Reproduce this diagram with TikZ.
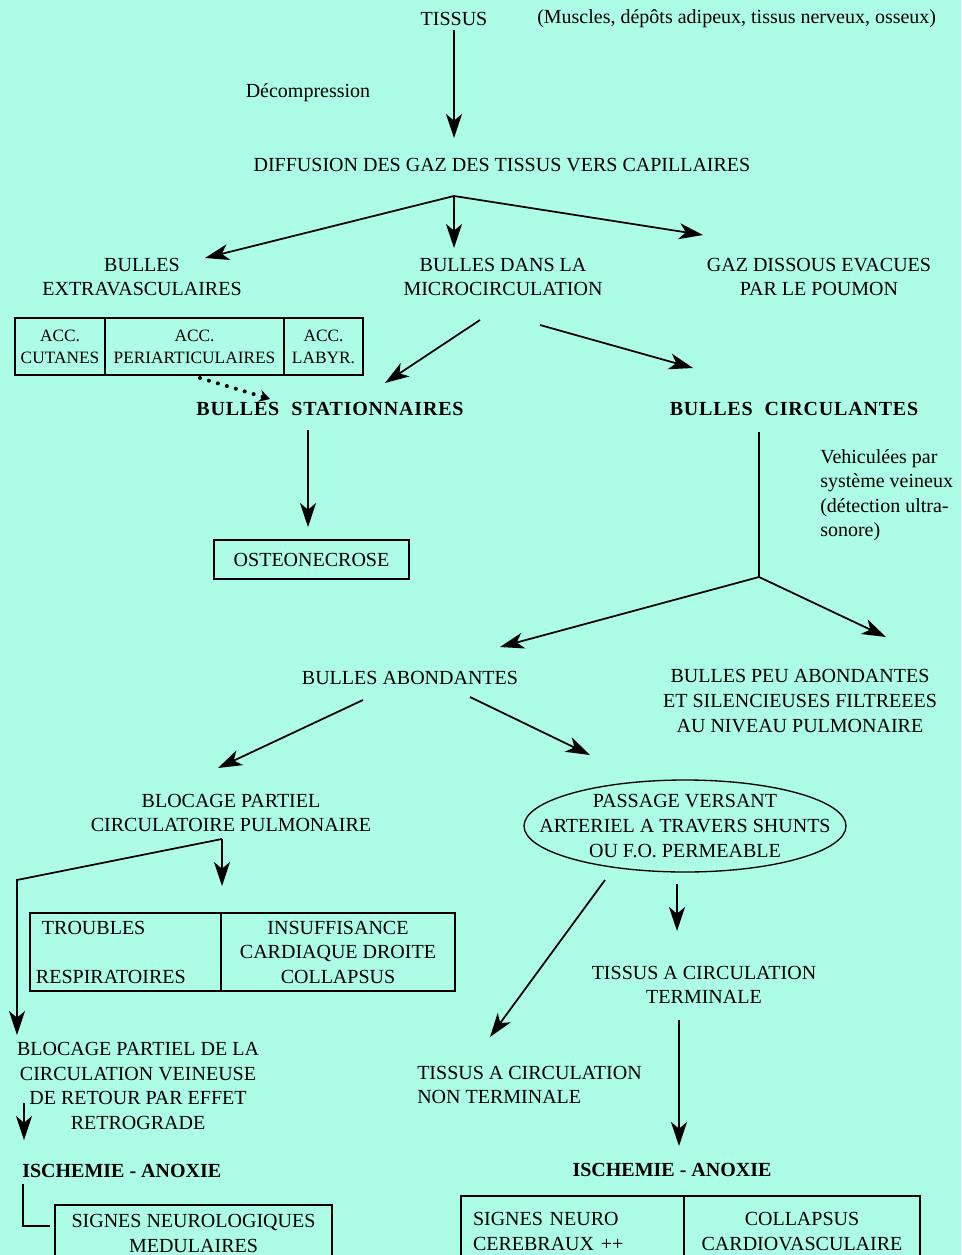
\documentclass[tikz,border=0pt]{standalone}
\usepackage{fontspec}
\setmainfont{Liberation Serif}
\usepackage{xcolor}
\usetikzlibrary{shapes,arrows.meta,positioning}

\definecolor{aqua}{RGB}{172,252,231}
\newcommand{\diagfont}{\fontsize{15}{18.4}\selectfont}
\newcommand{\cellfont}{\fontsize{13}{16.5}\selectfont}

\begin{document}
\begin{tikzpicture}[
    x=0.75pt, y=-0.75pt,
    every node/.style={font=\diagfont},
    txt/.style={align=center},
    boldtxt/.style={font=\diagfont\bfseries},
    cell/.style={rectangle, draw, outer sep=0pt, inner sep=0pt, align=center, line width=1pt},
    arrow/.style={-{Stealth[length=18pt, width=12pt, inset=5pt]}, line width=1.3pt},
    plain/.style={line width=1.3pt}
]

\clip (0,0) rectangle (961,1255);
\fill[aqua] (0,0) rectangle (961,1255);

% top
\node (tissus) at (454,19) {TISSUS};
\node[anchor=west, inner sep=0pt] (muscles) at (537,19) {(Muscles, dépôts adipeux, tissus nerveux, osseux)};
\node (decomp) at (308,93) {Décompression};
\node (diffusion) at (502,165) {DIFFUSION DES GAZ DES TISSUS VERS CAPILLAIRES};

\node[txt] (extra) at (142,277) {BULLES\\EXTRAVASCULAIRES};
\node[txt] (micro) at (503,277) {BULLES DANS LA\\MICROCIRCULATION};
\node[txt] (gaz) at (819,277) {GAZ DISSOUS EVACUES\\PAR LE POUMON};

% accidents
\node[cell, font=\cellfont, minimum width=67.5pt, minimum height=42.75pt, anchor=north west] (cutanes) at (15,318) {ACC.\\CUTANES};
\node[cell, font=\cellfont, minimum width=134.25pt, minimum height=42.75pt, right=0pt of cutanes] (periart) {ACC.\\PERIARTICULAIRES};
\node[cell, font=\cellfont, minimum width=59.25pt, minimum height=42.75pt, right=0pt of periart] (labyr) {ACC.\\LABYR.};

\node[boldtxt] (stat) at (330,409) {\addfontfeatures{LetterSpace=4}BULLES\hspace{0.6em}STATIONNAIRES};
\node[boldtxt] (circ) at (794,409) {\addfontfeatures{LetterSpace=4}BULLES\hspace{0.6em}CIRCULANTES};

\node[cell, minimum width=146.25pt, minimum height=29.25pt] (osteo) at (311.5,559.5) {OSTEONECROSE};
\node[anchor=north west, inner sep=0pt, align=left] (vehic) at (820,449) {Vehiculées par\\système veineux\\(détection ultra-\\sonore)};

\node (abond) at (410,678) {BULLES ABONDANTES};
\node[txt] (peu) at (800,701) {BULLES PEU ABONDANTES\\ET SILENCIEUSES FILTREEES\\AU NIVEAU PULMONAIRE};

\node[txt] (blocage) at (231,813) {BLOCAGE PARTIEL\\CIRCULATOIRE PULMONAIRE};
\node[txt] (passage) at (685,826) {PASSAGE VERSANT\\ARTERIEL A TRAVERS SHUNTS\\OU F.O. PERMEABLE};
\draw[line width=1pt] (passage.center) ellipse [x radius=120.75pt, y radius=34.5pt];

% troubles
\node[cell, minimum width=143.25pt, minimum height=58.5pt, text width=134.25pt, align=left, anchor=north west] (troubles) at (30,913) {\hspace{4.5pt}TROUBLES\\[18.4pt]RESPIRATOIRES};
\node[cell, minimum width=175.5pt, minimum height=58.5pt, right=0pt of troubles] (insuff) {INSUFFISANCE\\CARDIAQUE DROITE\\COLLAPSUS};

\node[txt] (veineuse) at (138,1086) {BLOCAGE PARTIEL DE LA\\CIRCULATION VEINEUSE\\DE RETOUR PAR EFFET\\RETROGRADE};
\node[txt] (terminale) at (704,985) {TISSUS A CIRCULATION\\TERMINALE};
\node[anchor=west, inner sep=0pt, align=left] (nonterm) at (417,1085) {TISSUS A CIRCULATION\\NON TERMINALE};

\node[boldtxt, anchor=west, inner sep=0pt] (ischA) at (22,1171) {ISCHEMIE - ANOXIE};
\node[boldtxt] (ischB) at (672,1170) {ISCHEMIE - ANOXIE};

% bottom boxes
\node[cell, minimum width=207.75pt, minimum height=42.75pt, anchor=north west] (medul) at (55,1205) {SIGNES NEUROLOGIQUES\\MEDULAIRES};
\node[cell, minimum width=167.25pt, minimum height=53.25pt, text width=149.25pt, align=left, anchor=north west] (cereb) at (461,1196) {SIGNES NEURO\\CEREBRAUX ++};
\node[cell, minimum width=177pt, minimum height=53.25pt, right=0pt of cereb] (cardio) {COLLAPSUS\\CARDIOVASCULAIRE};

% connector points
\coordinate (diffusion-in) at (454,138);
\coordinate (fanA) at (454,196);
\coordinate (extra-in) at (205,258);
\coordinate (micro-in) at (454,248);
\coordinate (gaz-in) at (703,235);
\coordinate (micro-outA) at (480,320);
\coordinate (micro-outB) at (540,325);
\coordinate (stat-in) at (385,383);
\coordinate (circ-in) at (693,368);
\coordinate (periart-out) at (200,378);
\coordinate (stat-dot) at (270,399);
\coordinate (stat-out) at (308,430);
\coordinate (osteo-in) at (308,527);
\coordinate (circ-out) at (759,432);
\coordinate (fanB) at (759,577);
\coordinate (abond-in) at (500,647);
\coordinate (peu-in) at (886,637);
\coordinate (abond-outA) at (363,700);
\coordinate (abond-outB) at (470,697);
\coordinate (blocage-in) at (218,768);
\coordinate (passage-in) at (590,755);
\coordinate (blocage-out) at (222,839);
\coordinate (troubles-in) at (222,886);
\coordinate (bendA) at (17,880);
\coordinate (veineuse-in) at (17,1035);
\coordinate (veineuse-out) at (24,1103);
\coordinate (ischA-in) at (24,1140);
\coordinate (ischA-out) at (23,1184);
\coordinate (bendB) at (23,1226);
\coordinate (medul-in) at (50,1226);
\coordinate (passage-outA) at (605,880);
\coordinate (passage-outB) at (677,884);
\coordinate (nonterm-in) at (490,1037);
\coordinate (terminale-in) at (677,931);
\coordinate (terminale-out) at (679,1020);
\coordinate (ischB-in) at (679,1146);

\draw[arrow] (tissus.south) -- (diffusion-in);
\draw[arrow] (fanA) -- (extra-in);
\draw[arrow] (fanA) -- (micro-in);
\draw[arrow] (fanA) -- (gaz-in);
\draw[arrow] (micro-outA) -- (stat-in);
\draw[arrow] (micro-outB) -- (circ-in);
\draw[-{Stealth[length=8pt, width=9pt]}, line width=3pt, line cap=round, dash pattern=on 0pt off 7pt] (periart-out) -- (stat-dot);
\draw[arrow] (stat-out) -- (osteo-in);
\draw[plain] (circ-out) -- (fanB);
\draw[arrow] (fanB) -- (abond-in);
\draw[arrow] (fanB) -- (peu-in);
\draw[arrow] (abond-outA) -- (blocage-in);
\draw[arrow] (abond-outB) -- (passage-in);
\draw[arrow] (blocage-out) -- (troubles-in);
\draw[arrow] (blocage-out) -- (bendA) -- (veineuse-in);
\draw[arrow] (veineuse-out) -- (ischA-in);
\draw[plain] (ischA-out) -- (bendB) -- (medul-in);
\draw[arrow] (passage-outA) -- (nonterm-in);
\draw[arrow] (passage-outB) -- (terminale-in);
\draw[arrow] (terminale-out) -- (ischB-in);

\end{tikzpicture}
\end{document}
